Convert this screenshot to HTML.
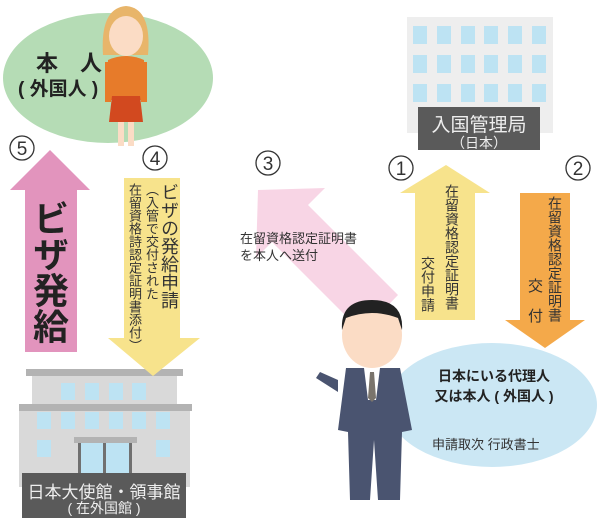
<!DOCTYPE html>
<html><head><meta charset="utf-8"><style>
body{margin:0;width:600px;height:518px;overflow:hidden;background:#fff;position:relative;font-family:"Liberation Sans","Noto Sans CJK JP",sans-serif;}
svg{position:absolute;left:0;top:0}
.v{position:absolute;writing-mode:vertical-rl;color:#333;line-height:1;white-space:nowrap}
.t{position:absolute;color:#333;white-space:nowrap}
</style></head><body>
<svg width="600" height="518" viewBox="0 0 600 518">
<ellipse cx="108" cy="78" rx="105" ry="65" fill="#b5dcb5"/>
<ellipse cx="492" cy="405" rx="105" ry="62" fill="#cbe7f4"/>
<!-- top right building -->
<rect x="407" y="17" width="146" height="116" fill="#eeeeee"/>
<g fill="#bde3f3">
<rect x="413" y="26" width="14" height="18"/><rect x="437" y="26" width="14" height="18"/><rect x="461" y="26" width="14" height="18"/><rect x="484" y="26" width="14" height="18"/><rect x="508" y="26" width="14" height="18"/><rect x="532" y="26" width="14" height="18"/>
<rect x="413" y="55" width="14" height="18"/><rect x="437" y="55" width="14" height="18"/><rect x="461" y="55" width="14" height="18"/><rect x="484" y="55" width="14" height="18"/><rect x="508" y="55" width="14" height="18"/><rect x="532" y="55" width="14" height="18"/>
<rect x="413" y="84" width="14" height="18"/><rect x="437" y="84" width="14" height="18"/><rect x="461" y="84" width="14" height="18"/><rect x="484" y="84" width="14" height="18"/><rect x="508" y="84" width="14" height="18"/><rect x="532" y="84" width="14" height="18"/>
</g>
<rect x="418" y="107" width="122" height="43" fill="#5a5a5a"/>
<!-- bottom left building -->
<rect x="26" y="369" width="157" height="7" fill="#b3b3b3"/>
<rect x="32" y="376" width="145" height="29" fill="#d9d9d9"/>
<rect x="19" y="404" width="173" height="7" fill="#b3b3b3"/>
<rect x="19" y="411" width="171" height="76" fill="#d9d9d9"/>
<g fill="#bde3f3">
<rect x="61" y="383" width="14" height="17"/><rect x="85" y="383" width="14" height="17"/><rect x="109" y="383" width="14" height="17"/><rect x="132" y="383" width="14" height="17"/>
<rect x="37" y="412" width="14" height="17"/><rect x="61" y="412" width="14" height="17"/><rect x="85" y="412" width="14" height="17"/><rect x="109" y="412" width="14" height="17"/><rect x="132" y="412" width="14" height="17"/><rect x="156" y="412" width="14" height="17"/>
<rect x="37" y="440" width="14" height="17"/><rect x="156" y="440" width="14" height="17"/>
<rect x="79" y="443" width="52" height="40"/>
</g>
<rect x="74" y="437" width="63" height="6" fill="#b3b3b3"/>
<rect x="78" y="443" width="3" height="40" fill="#707070"/><rect x="103" y="443" width="3" height="40" fill="#707070"/><rect x="129" y="443" width="3" height="40" fill="#707070"/>
<rect x="22" y="473" width="164" height="45" fill="#5a5a5a"/>
<!-- arrows -->
<polygon points="50,150 90,190 77,190 77,352 25,352 25,190 10,190" fill="#e294bd"/>
<polygon points="124,178 180,178 180,338 200,338 153,376 108,338 124,338" fill="#f7e38c"/>
<polygon points="258,190 325,188 308,205 398,295 362,332 272,242 256,258" fill="#f8d5e5"/>
<polygon points="446,165 490,193 475,193 475,320 415,320 415,193 400,193" fill="#f7e38c"/>
<polygon points="520,193 570,193 570,320 585,320 545,348 505,320 520,320" fill="#f4a94a"/>
<!-- woman -->
<path d="M103 55 Q100 8 126 6 Q152 8 148 55 Z" fill="#e8b56a"/>
<ellipse cx="126" cy="36" rx="17" ry="20" fill="#fbdcc5"/>
<path d="M108 60 Q126 52 144 60 L145 100 L107 100 Z" fill="#e77b2a"/>
<rect x="105" y="62" width="6" height="40" fill="#e77b2a"/><rect x="141" y="62" width="6" height="40" fill="#e77b2a"/>
<path d="M112 96 L140 96 L143 122 L109 122 Z" fill="#d2491f"/>
<rect x="118" y="122" width="6" height="24" fill="#fbdcc5"/><rect x="128" y="122" width="6" height="24" fill="#fbdcc5"/>
<!-- man -->
<ellipse cx="372" cy="335" rx="30" ry="33" fill="#fbdcc5"/>
<path d="M342 330 Q340 300 372 300 Q404 300 402 330 L398 318 Q372 308 346 318 Z" fill="#222"/>
<path d="M346 368 L400 368 L412 430 L402 432 L400 500 L378 500 L374 440 L370 500 L350 500 L348 432 L338 430 Z" fill="#4a5470"/>
<path d="M338 380 L320 372 L316 378 L338 392 Z" fill="#4a5470"/>
<path d="M364 368 L380 368 L376 400 L368 400 Z" fill="#fff"/>
<path d="M370 372 L374 372 L376 398 L372 402 L368 398 Z" fill="#7a746c"/>
<!-- circles -->
<g fill="none" stroke="#333" stroke-width="1.3">
<circle cx="22" cy="148" r="12"/><circle cx="155" cy="158" r="12"/><circle cx="268" cy="163" r="12"/><circle cx="401" cy="168" r="12"/><circle cx="578" cy="168" r="12"/>
</g>
<g font-size="19" fill="#333" text-anchor="middle" font-family="Liberation Sans,sans-serif">
<text x="22" y="155">5</text><text x="155" y="165">4</text><text x="268" y="170">3</text><text x="401" y="175">1</text><text x="578" y="175">2</text>
</g>
</svg>
<div class="t" style="left:36px;top:46px;font-size:22px;font-weight:bold;color:#222">本　人</div>
<div class="t" style="left:18px;top:74px;font-size:19px;font-weight:bold;color:#222">( 外国人 )</div>
<div class="t" style="left:418px;top:110px;width:122px;text-align:center;font-size:19px;color:#eee">入国管理局</div>
<div class="t" style="left:418px;top:133px;width:122px;text-align:center;font-size:14px;color:#eee">（日本）</div>
<div class="t" style="left:22px;top:478px;width:164px;text-align:center;font-size:17px;color:#eee">日本大使館・領事館</div>
<div class="t" style="left:22px;top:498px;width:164px;text-align:center;font-size:14px;color:#eee">( 在外国館 )</div>
<div class="v" style="left:30px;top:200px;font-size:36px;font-weight:bold;color:#222">ビザ発給</div>
<div class="v" style="left:160px;top:183px;font-size:18px">ビザの発給申請</div>
<div class="v" style="left:145px;top:183px;font-size:13px">（入管で交付された</div>
<div class="v" style="left:128px;top:183px;font-size:13px">在留資格詩認定証明書添付）</div>
<div class="t" style="left:240px;top:230px;font-size:13px;line-height:17px">在留資格認定証明書<br>を本人へ送付</div>
<div class="v" style="left:445px;top:184px;font-size:14px">在留資格認定証明書</div>
<div class="v" style="left:421px;top:256px;font-size:14px">交付申請</div>
<div class="v" style="left:548px;top:196px;font-size:14px">在留資格認定証明書</div>
<div class="v" style="left:525px;top:278px;font-size:15px;line-height:1.2">交　付</div>
<div class="t" style="left:424px;top:366px;width:140px;text-align:center;font-size:14px;font-weight:bold;color:#222;line-height:20px">日本にいる代理人<br>又は本人 ( 外国人 )</div>
<div class="t" style="left:432px;top:434px;font-size:13px">申請取次 行政書士</div>
</body></html>
